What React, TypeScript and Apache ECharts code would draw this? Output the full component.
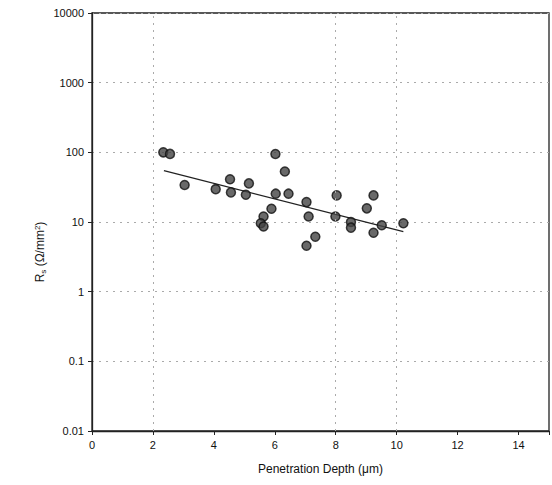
import React, { useEffect, useRef } from "react";
import * as echarts from "echarts";

const depthUm = [2.34, 2.56, 3.04, 4.06, 4.53, 4.56, 5.05, 5.15, 6.02, 6.33, 5.89, 5.63, 5.54, 5.63, 6.03, 6.45, 7.04, 7.11, 7.33, 7.04, 8.03, 7.99, 8.5, 8.5, 9.02, 9.24, 9.24, 9.51, 10.22];
const rsValues = [100, 95, 34, 29.6, 41, 26.6, 24.6, 35.8, 94.8, 53, 15.5, 12, 9.6, 8.6, 25.5, 25.5, 19.3, 12, 6.15, 4.57, 24.1, 12, 10, 8.3, 15.7, 24.1, 7.0, 9.0, 9.6];
const trendX = [2.36, 10.22];
const trendY = [54.5, 7.26];
const gridXLines = [2, 8, 10];
const xTicks = [0, 2, 4, 6, 8, 10, 12, 14];

export default function App() {
  const ref = useRef<HTMLDivElement>(null);
  useEffect(() => {
    if (!ref.current) return;
    const chart = echarts.init(ref.current, undefined, { renderer: "svg" });
    const font = "Liberation Sans, Arial, sans-serif";
    chart.setOption({
      animation: false,
      backgroundColor: "#fff",
      grid: {
        left: 92,
        right: 3,
        top: 13,
        bottom: 54,
        show: true,
        borderColor: "#222",
        borderWidth: 1.3,
      },
      xAxis: {
        type: "value",
        min: 0,
        max: 15,
        interval: 2,
        name: "Penetration Depth (\u03bcm)",
        nameLocation: "middle",
        nameGap: 32,
        nameTextStyle: { fontFamily: font, fontSize: 12, color: "#111" },
        axisLine: { show: true, onZero: false, lineStyle: { color: "#222", width: 1.3 } },
        axisTick: { show: true, length: 4, lineStyle: { color: "#222" } },
        axisLabel: {
          fontFamily: font,
          fontSize: 11,
          color: "#111",
          margin: 8,
          formatter: (v: number) => (xTicks.includes(v) ? String(v) : ""),
        },
        splitLine: { show: false },
      },
      yAxis: {
        type: "log",
        logBase: 10,
        min: 0.01,
        max: 10000,
        axisLine: { show: true, lineStyle: { color: "#222", width: 1.3 } },
        axisTick: { show: true, length: 4, lineStyle: { color: "#222" } },
        axisLabel: {
          fontFamily: font,
          fontSize: 11,
          color: "#111",
          margin: 8,
          formatter: (v: number) => String(Number(v.toPrecision(3))),
        },
        splitLine: { show: true, lineStyle: { color: "#aaa", type: [2, 5], width: 1 } },
      },
      graphic: [
        {
          type: "text",
          x: 40,
          y: 252,
          rotation: Math.PI / 2,
          style: {
            text: "{r|R}{s|s}{r| (\u03a9/mm}{sup|2}{r|)}",
            align: "center",
            verticalAlign: "middle",
            rich: {
              r: { fontFamily: font, fontSize: 12, fill: "#111" },
              s: { fontFamily: font, fontSize: 8, fill: "#111", verticalAlign: "bottom", padding: [6, 0, 0, 0] },
              sup: { fontFamily: font, fontSize: 8, fill: "#111", padding: [0, 0, 6, 0] },
            },
          },
        },
      ],
      series: [
        {
          type: "scatter",
          data: depthUm.map((x, i) => [x, rsValues[i]]),
          symbol: "circle",
          symbolSize: 9,
          itemStyle: { color: "#444", borderColor: "#111", borderWidth: 1.5 },
          markLine: {
            silent: true,
            symbol: "none",
            label: { show: false },
            lineStyle: { color: "#aaa", type: [2, 5], width: 1 },
            data: gridXLines.map((x) => ({ xAxis: x })),
          },
          z: 3,
        },
        {
          type: "line",
          data: trendX.map((x, i) => [x, trendY[i]]),
          showSymbol: false,
          symbol: "none",
          lineStyle: { color: "#222", width: 1.3 },
          z: 2,
        },
      ],
    });
    return () => chart.dispose();
  }, []);
  return (
    <div
      ref={ref}
      style={{ position: "fixed", left: 0, top: 0, width: 552, height: 485 }}
    />
  );
}
